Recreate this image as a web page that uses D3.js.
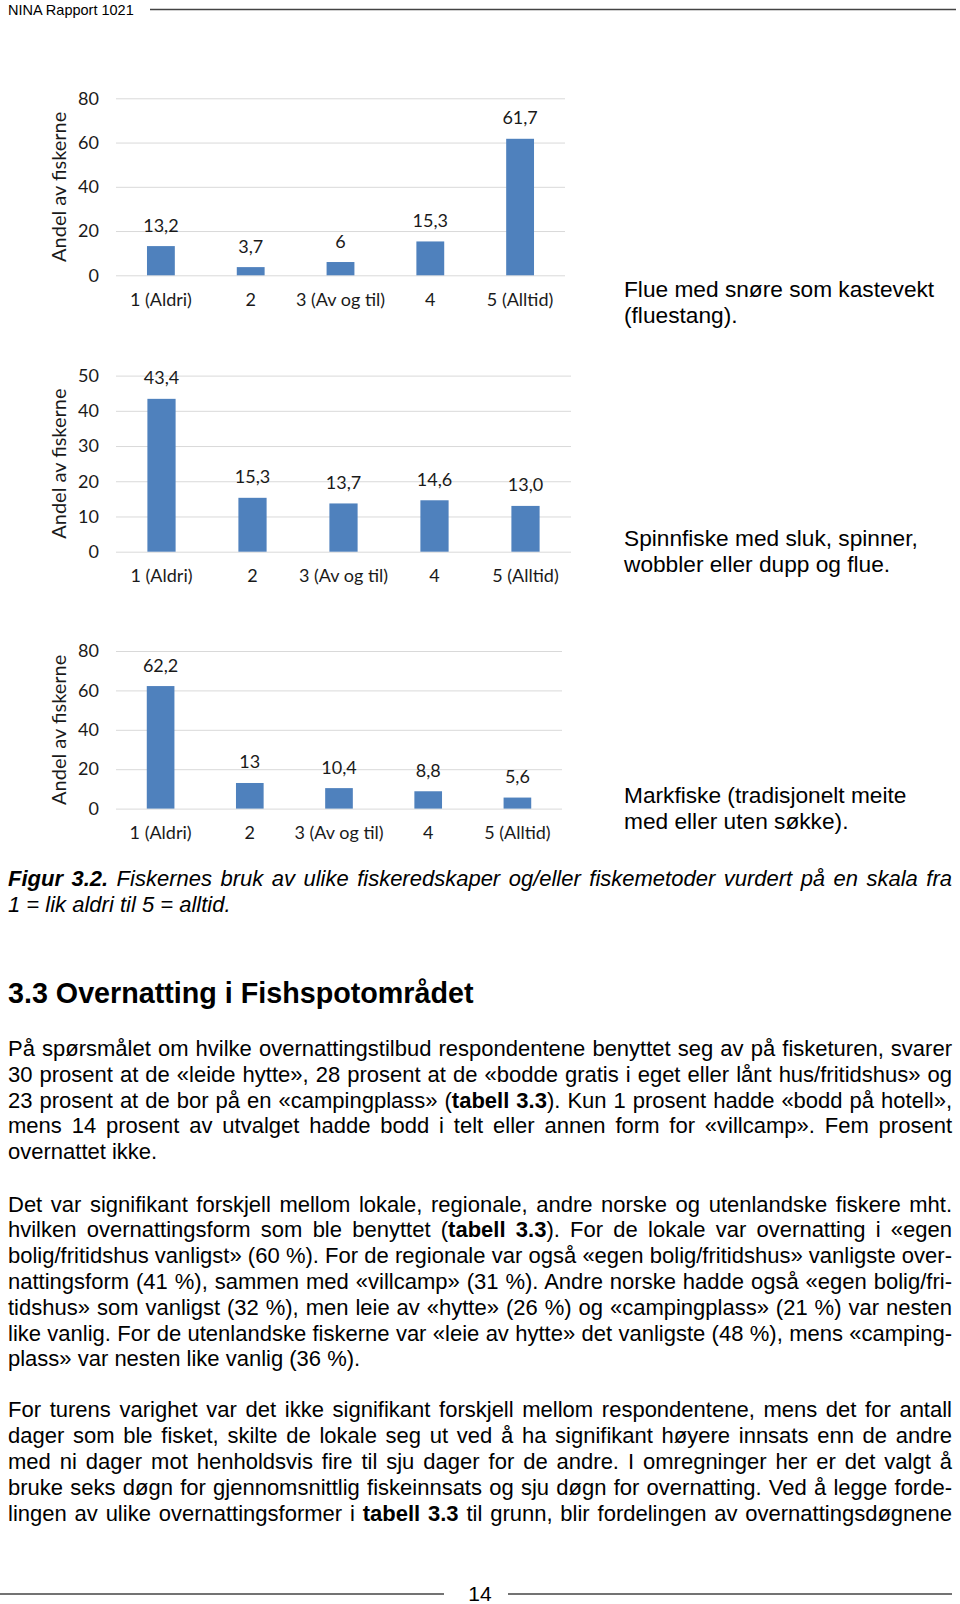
<!DOCTYPE html>
<html>
<head>
<meta charset="utf-8">
<script src="https://cdn.jsdelivr.net/npm/d3@7"></script>
<style>
  body { margin: 0; background: #fff; }
  svg { display: block; }
  .chart text { font-family: Lato, "Open Sans", sans-serif; fill: #1a1a1a; }
  .page text { font-family: "Liberation Sans", Arial, sans-serif; fill: #000; }
</style>
</head>
<body>
<div id="page"></div>
<script>
// categories shared by the three panels
var categories = ["1 (Aldri)", "2", "3 (Av og til)", "4", "5 (Alltid)"];

// flue med snøre
var flueValues = [13.2, 3.7, 6, 15.3, 61.7];
var flueLabels = ["13,2", "3,7", "6", "15,3", "61,7"];
var flueTicks = [0, 20, 40, 60, 80];
var flueNote = ["Flue med snøre som kastevekt", "(fluestang)."];

// spinnfiske
var spinnValues = [43.4, 15.3, 13.7, 14.6, 13.0];
var spinnLabels = ["43,4", "15,3", "13,7", "14,6", "13,0"];
var spinnTicks = [0, 10, 20, 30, 40, 50];
var spinnNote = ["Spinnfiske med sluk, spinner,", "wobbler eller dupp og flue."];

// markfiske
var markValues = [62.2, 13, 10.4, 8.8, 5.6];
var markLabels = ["62,2", "13", "10,4", "8,8", "5,6"];
var markTicks = [0, 20, 40, 60, 80];
var markNote = ["Markfiske (tradisjonelt meite", "med eller uten søkke)."];

var yTitle = "Andel av fiskerne";

// page text, ** marks bold
var captionLines = [
  "**Figur 3.2.** Fiskernes bruk av ulike fiskeredskaper og/eller fiskemetoder vurdert på en skala fra",
  "1 = lik aldri til 5 = alltid."
];
var heading = "3.3 Overnatting i Fishspotområdet";
var para1 = [
  "På spørsmålet om hvilke overnattingstilbud respondentene benyttet seg av på fisketuren, svarer",
  "30 prosent at de «leide hytte», 28 prosent at de «bodde gratis i eget eller lånt hus/fritidshus» og",
  "23 prosent at de bor på en «campingplass» (**tabell 3.3**). Kun 1 prosent hadde «bodd på hotell»,",
  "mens 14 prosent av utvalget hadde bodd i telt eller annen form for «villcamp». Fem prosent",
  "overnattet ikke."
];
var para2 = [
  "Det var signifikant forskjell mellom lokale, regionale, andre norske og utenlandske fiskere mht.",
  "hvilken overnattingsform som ble benyttet (**tabell 3.3**). For de lokale var overnatting i «egen",
  "bolig/fritidshus vanligst» (60 %). For de regionale var også «egen bolig/fritidshus» vanligste over-",
  "nattingsform (41 %), sammen med «villcamp» (31 %). Andre norske hadde også «egen bolig/fri-",
  "tidshus» som vanligst (32 %), men leie av «hytte» (26 %) og «campingplass» (21 %) var nesten",
  "like vanlig. For de utenlandske fiskerne var «leie av hytte» det vanligste (48 %), mens «camping-",
  "plass» var nesten like vanlig (36 %)."
];
var para3 = [
  "For turens varighet var det ikke signifikant forskjell mellom respondentene, mens det for antall",
  "dager som ble fisket, skilte de lokale seg ut ved å ha signifikant høyere innsats enn de andre",
  "med ni dager mot henholdsvis fire til sju dager for de andre. I omregninger her er det valgt å",
  "bruke seks døgn for gjennomsnittlig fiskeinnsats og sju døgn for overnatting. Ved å legge forde-",
  "lingen av ulike overnattingsformer i **tabell 3.3** til grunn, blir fordelingen av overnattingsdøgnene"
];

var W = 960, H = 1604;
var textLeft = 8, textRight = 952;
var lineStep = 25.8;

var svg = d3.select("#page").append("svg")
  .attr("width", W)
  .attr("height", H);

svg.append("rect").attr("width", W).attr("height", H).attr("fill", "#fff");

var page = svg.append("g").attr("class", "page");
var charts = svg.append("g").attr("class", "chart");

// panel layout
var panels = [
  {values: flueValues, labels: flueLabels, ticks: flueTicks, note: flueNote,
   x0: 116, x1: 565, y0: 275.3, y1: 98.3, noteY: 297},
  {values: spinnValues, labels: spinnLabels, ticks: spinnTicks, note: spinnNote,
   x0: 116, x1: 571, y0: 551.7, y1: 375.6, noteY: 546},
  {values: markValues, labels: markLabels, ticks: markTicks, note: markNote,
   x0: 116, x1: 562, y0: 808.6, y1: 651, noteY: 803}
];

panels.forEach(function(p) { drawPanel(p); });

function drawPanel(p) {
  var g = charts.append("g");

  var xScale = d3.scaleBand()
    .domain(categories)
    .range([p.x0, p.x1])
    .paddingInner(0.69)
    .paddingOuter(0.345);

  var yScale = d3.scaleLinear()
    .domain([0, d3.max(p.ticks)])
    .range([p.y0, p.y1]);

  // gridlines + y labels
  var yAxis = d3.axisLeft(yScale)
    .tickValues(p.ticks)
    .tickSize(-(p.x1 - p.x0))
    .tickPadding(17)
    .tickFormat(d3.format("d"));

  var ya = g.append("g")
    .attr("transform", "translate(" + p.x0 + ",0)")
    .call(yAxis);
  ya.select(".domain").remove();
  ya.selectAll("line").attr("stroke", "#d9d9d9").attr("stroke-width", 1);
  ya.attr("font-family", null).attr("font-size", null);
  ya.selectAll("text").style("font-size", "18px");

  // bars
  g.selectAll("rect.bar")
    .data(p.values)
    .enter()
    .append("rect")
    .attr("class", "bar")
    .attr("x", function(d, i) { return xScale(categories[i]); })
    .attr("y", function(d) { return yScale(d); })
    .attr("width", xScale.bandwidth())
    .attr("height", function(d) { return p.y0 - yScale(d); })
    .attr("fill", "#4f81bd");

  // value labels
  g.selectAll("text.val")
    .data(p.values)
    .enter()
    .append("text")
    .attr("class", "val")
    .attr("x", function(d, i) { return xScale(categories[i]) + xScale.bandwidth() / 2; })
    .attr("y", function(d) { return yScale(d) - 14.5; })
    .style("text-anchor", "middle")
    .style("font-size", "18px")
    .text(function(d, i) { return p.labels[i]; });

  // category axis
  var xa = g.append("g")
    .attr("transform", "translate(0," + p.y0 + ")")
    .call(d3.axisBottom(xScale).tickSize(0).tickPadding(18));
  xa.select(".domain").remove();
  xa.attr("font-family", null).attr("font-size", null);
  xa.selectAll("text").style("font-size", "18px");

  g.append("text")
    .attr("transform", "translate(59.4," + ((p.y0 + p.y1) / 2) + ") rotate(-90)")
    .attr("dy", "0.35em")
    .style("text-anchor", "middle")
    .style("font-size", "20px")
    .text(yTitle);

  // description to the right
  p.note.forEach(function(line, i) {
    page.append("text")
      .attr("x", 624)
      .attr("y", p.noteY + i * 25.6)
      .style("font-size", "22.7px")
      .text(line);
  });
}

// writes a line, handling **bold** parts, and justifies it if asked
function writeLine(str, y, size, italic, justify) {
  var t = page.append("text")
    .attr("x", textLeft)
    .attr("y", y)
    .style("font-size", size + "px")
    .style("font-style", italic ? "italic" : null);
  str.split(/(\*\*[^*]+\*\*)/).forEach(function(seg) {
    if (!seg) return;
    var bold = seg.indexOf("**") === 0;
    t.append("tspan")
      .style("font-weight", bold ? "bold" : null)
      .text(bold ? seg.slice(2, -2) : seg);
  });
  if (justify) {
    var w = t.node().getComputedTextLength();
    var n = (str.match(/ /g) || []).length;
    if (n > 0) t.style("word-spacing", ((textRight - textLeft - w) / n) + "px");
  }
  return t;
}

function writeParagraph(lines, y, justifyLast) {
  lines.forEach(function(line, i) {
    var last = i === lines.length - 1;
    writeLine(line, y + i * lineStep, 22, false, !last || justifyLast);
  });
}

// header
page.append("text")
  .attr("x", 8)
  .attr("y", 14.5)
  .style("font-size", "14.5px")
  .text("NINA Rapport 1021");
page.append("line")
  .attr("x1", 150).attr("x2", 956)
  .attr("y1", 9.5).attr("y2", 9.5)
  .attr("stroke", "#444").attr("stroke-width", 1.6);

// caption
captionLines.forEach(function(line, i) {
  writeLine(line, 886 + i * lineStep, 22, true, i === 0);
});

page.append("text")
  .attr("x", textLeft)
  .attr("y", 1003)
  .style("font-size", "28.7px")
  .style("font-weight", "bold")
  .text(heading);

writeParagraph(para1, 1056, false);
writeParagraph(para2, 1211.6, false);
writeParagraph(para3, 1417.4, true);

// footer
page.append("text")
  .attr("x", 480)
  .attr("y", 1601)
  .style("font-size", "21px")
  .style("text-anchor", "middle")
  .text("14");
page.append("line")
  .attr("x1", 0).attr("x2", 444)
  .attr("y1", 1594).attr("y2", 1594)
  .attr("stroke", "#444").attr("stroke-width", 1.6);
page.append("line")
  .attr("x1", 508).attr("x2", 952)
  .attr("y1", 1594).attr("y2", 1594)
  .attr("stroke", "#444").attr("stroke-width", 1.6);
</script>
</body>
</html>
